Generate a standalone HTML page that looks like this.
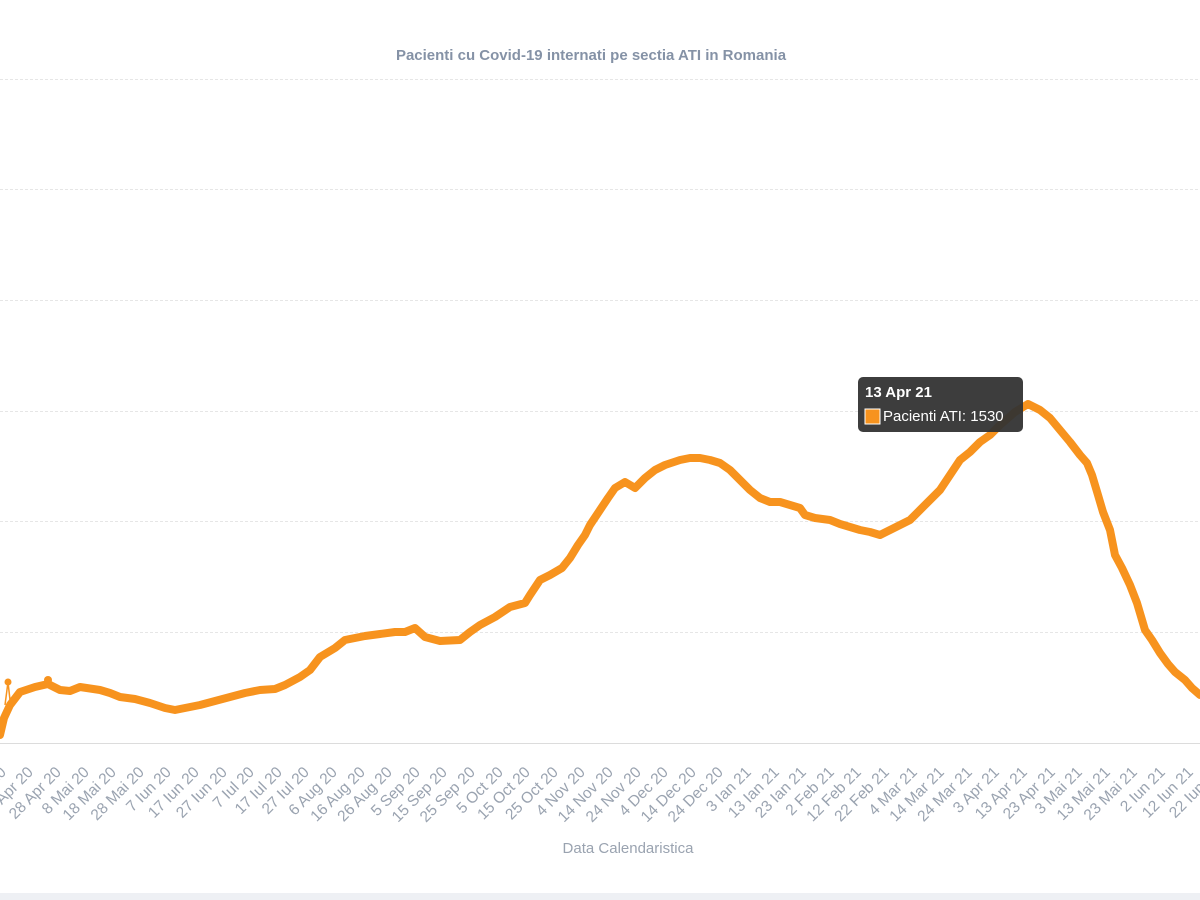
<!DOCTYPE html>
<html><head><meta charset="utf-8"><style>
html,body{margin:0;padding:0;background:#fff;width:1200px;height:900px;overflow:hidden;font-family:"Liberation Sans",sans-serif}
</style></head><body>
<svg width="1200" height="900" xmlns="http://www.w3.org/2000/svg">
<rect width="1200" height="900" fill="#fff"/>
<rect x="0" y="893" width="1200" height="7" fill="#eef0f4"/>
<text x="591" y="60" text-anchor="middle" font-size="15" font-weight="bold" fill="#8592a6">Pacienti cu Covid-19 internati pe sectia ATI in Romania</text>
<g stroke="#e6e6e6" stroke-width="1" stroke-dasharray="3,2">
<line x1="0" x2="1200" y1="79.5" y2="79.5"/>
<line x1="0" x2="1200" y1="189.5" y2="189.5"/>
<line x1="0" x2="1200" y1="300.5" y2="300.5"/>
<line x1="0" x2="1200" y1="411.5" y2="411.5"/>
<line x1="0" x2="1200" y1="521.5" y2="521.5"/>
<line x1="0" x2="1200" y1="632.5" y2="632.5"/>
</g>
<line x1="0" x2="1200" y1="743.5" y2="743.5" stroke="#dcdcdc"/>
<polyline fill="none" stroke="#f7931e" stroke-width="1.5" points="5,705 8,682 10,700"/>
<circle cx="8" cy="682" r="3.5" fill="#f7931e"/>
<circle cx="48" cy="680" r="4" fill="#f7931e"/>
<polyline fill="none" stroke="#f7931e" stroke-width="8" stroke-linecap="round" stroke-linejoin="round" points="0,735 4,718 10,705 20,692 35,687 48,684 60,690 70,691 80,687 100,690 110,693 120,697 135,699 150,703 165,708 175,710 190,707 200,705 215,701 230,697 245,693 260,690 275,689 285,685 300,677 310,670 320,657 335,648 345,640 365,636 380,634 395,632 405,632 415,628 425,637 440,641 460,640 470,632 480,625 495,617 510,607 525,603 530,595 540,580 550,575 562,568 570,558 578,545 585,535 590,525 600,510 608,498 615,488 625,482 635,488 645,478 655,470 665,465 680,460 690,458 700,458 710,460 720,463 730,470 740,480 750,490 760,498 770,502 780,502 790,505 800,508 805,515 815,518 830,520 840,524 850,527 860,530 870,532 880,535 890,530 900,525 910,520 920,510 930,500 940,490 950,475 960,460 970,452 980,442 990,435 1000,425 1015,412 1028,404 1040,410 1050,418 1060,430 1070,442 1080,455 1087,463 1092,475 1098,495 1103,512 1110,530 1115,555 1122,568 1130,585 1137,603 1145,630 1152,640 1160,653 1168,664 1175,672 1185,680 1192,688 1200,695"/>
<g font-size="15.5" fill="#9aa3b0" text-anchor="end">
<text x="7" y="773" transform="rotate(-45 7 773)">8 Apr 20</text>
<text x="34" y="773" transform="rotate(-45 34 773)">18 Apr 20</text>
<text x="62" y="773" transform="rotate(-45 62 773)">28 Apr 20</text>
<text x="90" y="773" transform="rotate(-45 90 773)">8 Mai 20</text>
<text x="117" y="773" transform="rotate(-45 117 773)">18 Mai 20</text>
<text x="145" y="773" transform="rotate(-45 145 773)">28 Mai 20</text>
<text x="172" y="773" transform="rotate(-45 172 773)">7 Iun 20</text>
<text x="200" y="773" transform="rotate(-45 200 773)">17 Iun 20</text>
<text x="228" y="773" transform="rotate(-45 228 773)">27 Iun 20</text>
<text x="255" y="773" transform="rotate(-45 255 773)">7 Iul 20</text>
<text x="283" y="773" transform="rotate(-45 283 773)">17 Iul 20</text>
<text x="310" y="773" transform="rotate(-45 310 773)">27 Iul 20</text>
<text x="338" y="773" transform="rotate(-45 338 773)">6 Aug 20</text>
<text x="366" y="773" transform="rotate(-45 366 773)">16 Aug 20</text>
<text x="393" y="773" transform="rotate(-45 393 773)">26 Aug 20</text>
<text x="421" y="773" transform="rotate(-45 421 773)">5 Sep 20</text>
<text x="448" y="773" transform="rotate(-45 448 773)">15 Sep 20</text>
<text x="476" y="773" transform="rotate(-45 476 773)">25 Sep 20</text>
<text x="504" y="773" transform="rotate(-45 504 773)">5 Oct 20</text>
<text x="531" y="773" transform="rotate(-45 531 773)">15 Oct 20</text>
<text x="559" y="773" transform="rotate(-45 559 773)">25 Oct 20</text>
<text x="586" y="773" transform="rotate(-45 586 773)">4 Nov 20</text>
<text x="614" y="773" transform="rotate(-45 614 773)">14 Nov 20</text>
<text x="642" y="773" transform="rotate(-45 642 773)">24 Nov 20</text>
<text x="669" y="773" transform="rotate(-45 669 773)">4 Dec 20</text>
<text x="697" y="773" transform="rotate(-45 697 773)">14 Dec 20</text>
<text x="724" y="773" transform="rotate(-45 724 773)">24 Dec 20</text>
<text x="752" y="773" transform="rotate(-45 752 773)">3 Ian 21</text>
<text x="780" y="773" transform="rotate(-45 780 773)">13 Ian 21</text>
<text x="807" y="773" transform="rotate(-45 807 773)">23 Ian 21</text>
<text x="835" y="773" transform="rotate(-45 835 773)">2 Feb 21</text>
<text x="862" y="773" transform="rotate(-45 862 773)">12 Feb 21</text>
<text x="890" y="773" transform="rotate(-45 890 773)">22 Feb 21</text>
<text x="918" y="773" transform="rotate(-45 918 773)">4 Mar 21</text>
<text x="945" y="773" transform="rotate(-45 945 773)">14 Mar 21</text>
<text x="973" y="773" transform="rotate(-45 973 773)">24 Mar 21</text>
<text x="1000" y="773" transform="rotate(-45 1000 773)">3 Apr 21</text>
<text x="1028" y="773" transform="rotate(-45 1028 773)">13 Apr 21</text>
<text x="1056" y="773" transform="rotate(-45 1056 773)">23 Apr 21</text>
<text x="1083" y="773" transform="rotate(-45 1083 773)">3 Mai 21</text>
<text x="1111" y="773" transform="rotate(-45 1111 773)">13 Mai 21</text>
<text x="1138" y="773" transform="rotate(-45 1138 773)">23 Mai 21</text>
<text x="1166" y="773" transform="rotate(-45 1166 773)">2 Iun 21</text>
<text x="1194" y="773" transform="rotate(-45 1194 773)">12 Iun 21</text>
<text x="1221" y="773" transform="rotate(-45 1221 773)">22 Iun 21</text>
</g>
<text x="628" y="853" text-anchor="middle" font-size="15" fill="#9aa3b0">Data Calendaristica</text>
<rect x="858" y="377" width="165" height="55" rx="5" fill="#333" fill-opacity="0.95"/>
<text x="865" y="397" font-size="15" font-weight="bold" fill="#fff">13 Apr 21</text>
<rect x="865" y="409" width="15" height="15" fill="#f7931e" stroke="#fff" stroke-width="1"/>
<text x="883" y="421" font-size="15" fill="#fff">Pacienti ATI: 1530</text>
</svg>
</body></html>
